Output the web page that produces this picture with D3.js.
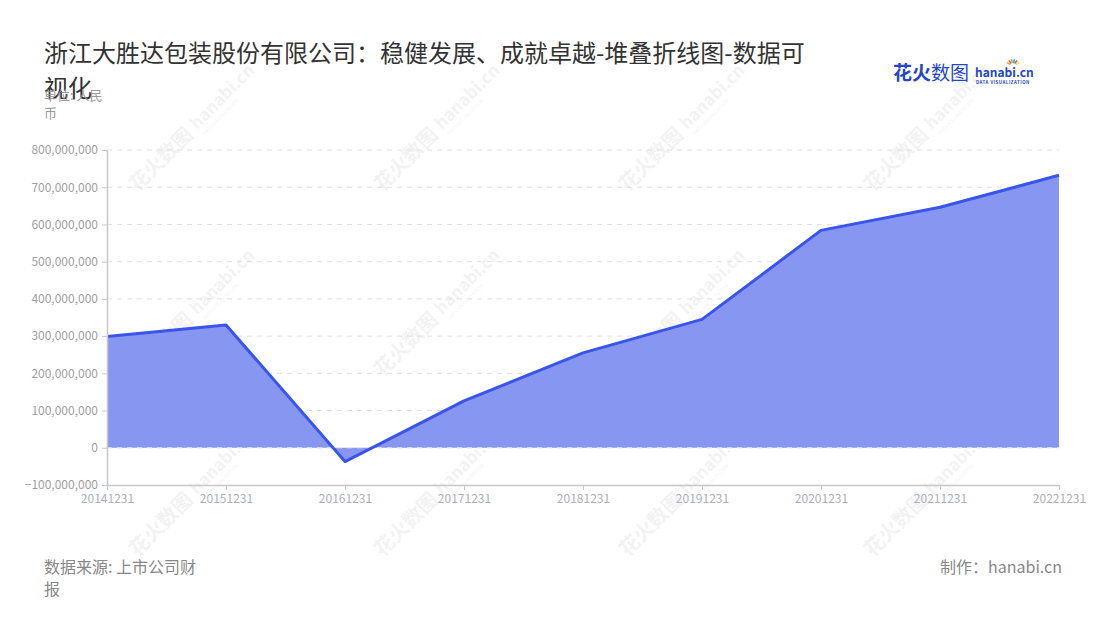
<!doctype html>
<html>
<head>
    <meta charset="utf-8">
    <title>浙江大胜达包装股份有限公司</title>
    <script src="https://d3js.org/d3.v7.min.js"></script>
    <style type="text/css">
        html, body { margin: 0; background: #fff; }
        body { width: 1100px; height: 620px; overflow: hidden; font-family: "Noto Sans CJK SC", "Noto Sans", sans-serif; }
    </style>
</head>
<body>
    <svg id="chart" width="1100" height="620"></svg>

    <script type="text/javascript">
        // 数据
        var dates = ["20141231", "20151231", "20161231", "20171231", "20181231",
                     "20191231", "20201231", "20211231", "20221231"];
        var values = [299000000, 330000000, -37000000, 126000000, 255000000,
                      345000000, 584000000, 646000000, 732000000];
        var yTicks = [-100000000, 0, 100000000, 200000000, 300000000, 400000000,
                      500000000, 600000000, 700000000, 800000000];

        var svg = d3.select("#chart");
        var font = '"Noto Sans CJK SC", "Noto Sans", sans-serif';

        var plotL = 107, plotR = 1059, plotT = 150, plotB = 485;

        // watermark behind everything
        var wm = svg.append("g").attr("class", "watermark");
        var wmX = [180, 425, 670, 915], wmY = [150, 335, 515];
        wmY.forEach(function(yy) {
            wmX.forEach(function(xx) {
                var g = wm.append("g")
                    .attr("transform", "translate(" + xx + "," + yy + ") rotate(-45)")
                    .attr("opacity", 0.05);
                g.append("text").attr("x", -60).attr("y", 0)
                    .attr("font-family", font).attr("font-weight", "bold")
                    .attr("font-size", 20).attr("fill", "#222").text("花火数图");
                g.append("text").attr("x", 26).attr("y", -2)
                    .attr("font-family", font).attr("font-weight", "bold")
                    .attr("font-size", 17).attr("fill", "#222").text("hanabi.cn");
                g.append("text").attr("x", 28).attr("y", 7)
                    .attr("font-family", font)
                    .attr("font-size", 5).attr("fill", "#222").text("DATA VISUALIZATION");
            });
        });

        var x = d3.scalePoint().domain(dates).range([plotL, plotR]);
        var y = d3.scaleLinear().domain([-100000000, 800000000]).range([plotB, plotT]);

        // grid
        svg.append("g").selectAll("line")
            .data(yTicks.filter(function(d) { return d !== -100000000; }))
            .enter().append("line")
            .attr("x1", plotL).attr("x2", plotR)
            .attr("y1", function(d) { return y(d); })
            .attr("y2", function(d) { return y(d); })
            .attr("stroke", "#e0e0e0")
            .attr("stroke-dasharray", "5,5");

        // area + line
        var area = d3.area()
            .x(function(d, i) { return x(dates[i]); })
            .y0(y(0))
            .y1(function(d) { return y(d); });
        var line = d3.line()
            .x(function(d, i) { return x(dates[i]); })
            .y(function(d) { return y(d); });

        svg.append("path").datum(values)
            .attr("d", area)
            .attr("fill", "#8797f1");

        svg.append("line")
            .attr("x1", plotL).attr("x2", plotR)
            .attr("y1", y(0)).attr("y2", y(0))
            .attr("stroke", "#e8e8e8")
            .attr("stroke-dasharray", "5,5");

        svg.append("path").datum(values)
            .attr("d", line)
            .attr("fill", "none")
            .attr("stroke", "#3a55ea")
            .attr("stroke-width", 3)
            .attr("stroke-linejoin", "round");

        // axes
        var fmt = d3.format(",");
        var yAxis = svg.append("g")
            .attr("transform", "translate(" + plotL + ",0)")
            .call(d3.axisLeft(y).tickValues(yTicks).tickSize(5).tickSizeOuter(0).tickPadding(4)
                .tickFormat(function(d) { return fmt(d); }));
        yAxis.select(".domain").attr("stroke", "#c8c8c8").attr("stroke-width", 1.5);
        yAxis.selectAll(".tick line").attr("stroke", "#c8c8c8");
        yAxis.selectAll("text").attr("fill", "#a0a0a0")
            .attr("font-family", font).attr("font-size", 12);

        var xAxis = svg.append("g")
            .attr("transform", "translate(0," + plotB + ")")
            .call(d3.axisBottom(x).tickSize(5).tickSizeOuter(0).tickPadding(4));
        xAxis.select(".domain").attr("stroke", "#c8c8c8").attr("stroke-width", 1.5);
        xAxis.selectAll(".tick line").attr("stroke", "#c8c8c8");
        xAxis.selectAll("text").attr("fill", "#aab0c2")
            .attr("font-family", font).attr("font-size", 12);

        // title
        var title = svg.append("text")
            .attr("font-family", font).attr("font-size", 24).attr("fill", "#333");
        title.append("tspan").attr("x", 44).attr("y", 62)
            .text("浙江大胜达包装股份有限公司：稳健发展、成就卓越-堆叠折线图-数据可");
        title.append("tspan").attr("x", 44).attr("y", 97).text("视化");

        var unit = svg.append("text")
            .attr("font-family", font).attr("font-size", 13).attr("fill", "#999");
        unit.append("tspan").attr("x", 44).attr("y", 100).text("单位: 人民");
        unit.append("tspan").attr("x", 44).attr("y", 118).text("币");

        // footer
        var src = svg.append("text")
            .attr("font-family", font).attr("font-size", 16).attr("fill", "#888");
        src.append("tspan").attr("x", 44).attr("y", 573).text("数据来源: 上市公司财");
        src.append("tspan").attr("x", 44).attr("y", 595).text("报");

        svg.append("text").attr("x", 1062).attr("y", 573)
            .attr("text-anchor", "end")
            .attr("font-family", font).attr("font-size", 16).attr("fill", "#888")
            .text("制作：hanabi.cn");

        // logo
        var logo = svg.append("g").attr("transform", "translate(893,80)");
        logo.append("text").attr("x", 0).attr("y", 0)
            .attr("font-family", font).attr("font-weight", "bold")
            .attr("font-size", 19).attr("fill", "#2446c8").text("花火");
        logo.append("text").attr("x", 38).attr("y", 0)
            .attr("font-family", font)
            .attr("font-size", 19).attr("fill", "#2446c8").text("数图");
        logo.append("text").attr("x", 82).attr("y", -3)
            .attr("font-family", font).attr("font-weight", "bold")
            .attr("font-size", 12).attr("fill", "#2446c8").text("hanabi.cn");
        logo.append("text").attr("x", 83).attr("y", 4)
            .attr("font-family", font).attr("font-weight", "bold")
            .attr("font-size", 4.4).attr("fill", "#2446c8").attr("letter-spacing", 0.5)
            .text("DATA VISUALIZATION");
        var sparkColors = ["#f5a623", "#e94e77", "#7ed321", "#4a90e2", "#9b59b6", "#f8e71c"];
        sparkColors.forEach(function(c, i) {
            var a = -150 + i * 24;
            var rad = a * Math.PI / 180;
            logo.append("line")
                .attr("x1", 120 + Math.cos(rad) * 3).attr("y1", -14 + Math.sin(rad) * 3)
                .attr("x2", 120 + Math.cos(rad) * 7).attr("y2", -14 + Math.sin(rad) * 7)
                .attr("stroke", c).attr("stroke-width", 1.5);
        });
    </script>
</body>
</html>
